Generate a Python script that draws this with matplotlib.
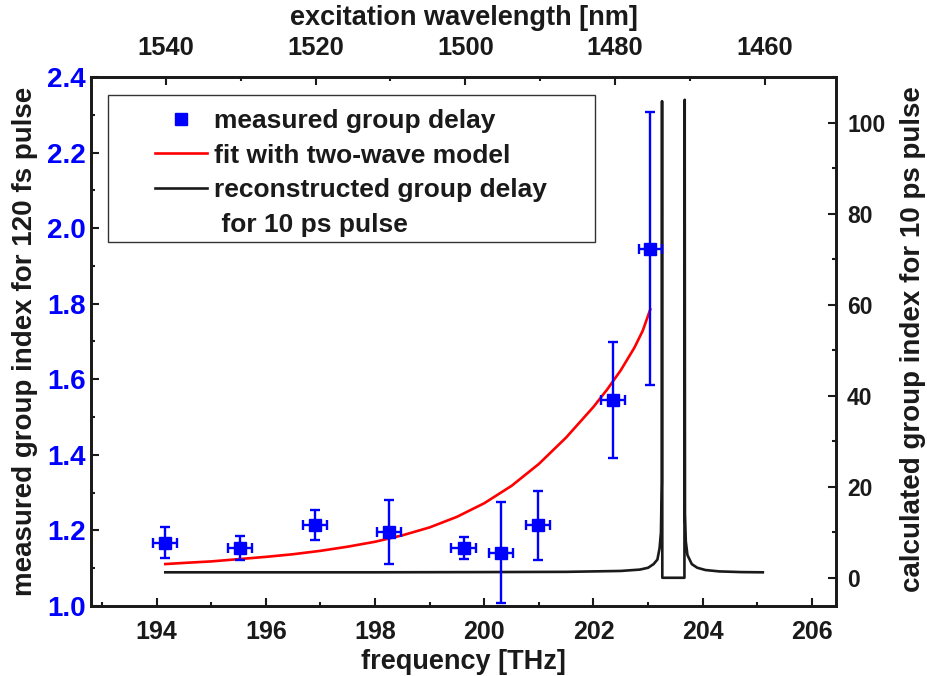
import matplotlib
matplotlib.use("Agg")
import matplotlib.pyplot as plt
from matplotlib.ticker import MultipleLocator, FormatStrFormatter
from matplotlib.lines import Line2D
from matplotlib.patches import Rectangle

# ---------------- data ----------------
freq_meas = [194.16, 195.53, 196.90, 198.26, 199.62, 200.31, 200.98, 202.36, 203.04]
ng_meas = [1.168, 1.153, 1.214, 1.195, 1.153, 1.141, 1.214, 1.546, 1.946]
ng_err = [0.042, 0.032, 0.039, 0.085, 0.029, 0.133, 0.091, 0.154, 0.362]
freq_err = [0.22, 0.22, 0.22, 0.22, 0.22, 0.22, 0.22, 0.22, 0.21]

fit_freq = [194.16, 194.5, 195.0, 195.5, 196.0, 196.5, 197.0, 197.5, 198.0, 198.5,
            199.0, 199.5, 200.0, 200.5, 201.0, 201.5, 202.0, 202.25, 202.5,
            202.75, 202.9, 203.04]
fit_ng = [1.111, 1.114, 1.118, 1.124, 1.130, 1.137, 1.146, 1.157, 1.170, 1.187,
          1.208, 1.236, 1.272, 1.318, 1.376, 1.446, 1.527, 1.573, 1.624,
          1.684, 1.728, 1.785]

rec_freq = [194.16, 196.0, 198.0, 200.0, 201.5, 202.5, 202.85, 203.0, 203.1, 203.17,
            203.21, 203.235, 203.25, 203.255, 203.26, 203.665, 203.67, 203.675,
            203.69, 203.72, 203.80, 203.90, 204.05, 204.30, 204.70, 205.10]
rec_ng = [1.2, 1.2, 1.2, 1.25, 1.3, 1.5, 1.8, 2.2, 3.0, 4.0,
          6.5, 10.0, 21.0, 104.7, 0.0, 0.0, 105.0, 14.0,
          8.0, 5.0, 3.0, 2.2, 1.7, 1.4, 1.25, 1.2]

freq_ticks = [194, 196, 198, 200, 202, 204, 206]
wl_ticks = [1540, 1520, 1500, 1480, 1460]
left_ticks = [1.0, 1.2, 1.4, 1.6, 1.8, 2.0, 2.2, 2.4]
right_ticks = [0, 20, 40, 60, 80, 100]

labels = ["measured group delay", "fit with two-wave model",
          "reconstructed group delay", " for 10 ps pulse"]

# ---------------- style ----------------
FONT = "Liberation Sans"
TXT = "#1a1a1a"
plt.rcParams["font.family"] = [FONT, "DejaVu Sans"]
plt.rcParams["font.weight"] = "bold"

fig = plt.figure(figsize=(9.28, 6.76), dpi=100)
ax = fig.add_axes([91 / 928, 70 / 676, 745 / 928, 529 / 676])
axr = ax.twinx()
axt = ax.twiny()

# reconstructed curve on right axis
axr.plot(rec_freq, rec_ng, color="#1a1a1a", lw=1.9, zorder=2)
axr.set_ylim(-6.2, 110)
axr.set_yticks(right_ticks)
axr.yaxis.set_minor_locator(MultipleLocator(10))

# fit and measurements on main axis
ax.plot(fit_freq, fit_ng, color="#ff0000", lw=1.9, zorder=3)
ax.errorbar(freq_meas, ng_meas, yerr=ng_err, xerr=freq_err, fmt="s",
            color="#0000ff", ms=8, elinewidth=1.7, capsize=3.4, capthick=1.7,
            zorder=4)
ax.set_xlim(192.8, 206.44)
ax.set_ylim(1.0, 2.4)
ax.set_xticks(freq_ticks)
ax.xaxis.set_minor_locator(MultipleLocator(1))
ax.set_yticks(left_ticks)
ax.yaxis.set_minor_locator(MultipleLocator(0.1))
ax.yaxis.set_major_formatter(FormatStrFormatter("%.1f"))
ax.set_zorder(axr.get_zorder() + 1)
ax.patch.set_visible(False)

# top wavelength axis (linear)
axt.set_xlim(1550.0, 1450.5)
axt.set_xticks(wl_ticks)
axt.xaxis.set_minor_locator(MultipleLocator(10))

for a in (ax, axr, axt):
    for s in a.spines.values():
        s.set_linewidth(1.8)
        s.set_color("#1a1a1a")

ax.tick_params(axis="x", which="both", direction="in", colors=TXT, width=1.5,
               labelsize=18, pad=10, top=False)
ax.tick_params(axis="x", which="major", length=5.5)
ax.tick_params(axis="x", which="minor", length=3)
ax.tick_params(axis="y", which="both", direction="in", color=TXT, width=1.5,
               labelsize=20, labelcolor="#0000ff", pad=4, right=False)
ax.tick_params(axis="y", which="major", length=5.5)
ax.tick_params(axis="y", which="minor", length=3)
axr.tick_params(axis="y", which="both", direction="in", colors=TXT, width=1.5,
                labelsize=16.5, pad=8)
axr.tick_params(axis="y", which="major", length=5.5)
axr.tick_params(axis="y", which="minor", length=3)
axt.tick_params(axis="x", which="both", direction="in", colors=TXT, width=1.5,
                labelsize=18.4, pad=12.5)
axt.tick_params(axis="x", which="major", length=5.5)
axt.tick_params(axis="x", which="minor", length=3)

for lab in ax.get_xticklabels() + ax.get_yticklabels() + axr.get_yticklabels() + axt.get_xticklabels():
    lab.set_fontweight("bold")

ax.set_xlabel("frequency [THz]", fontsize=19.5, fontweight="bold", color=TXT,
              va="center")
ax.xaxis.set_label_coords(0.5, -0.105)
axt.set_xlabel("excitation wavelength [nm]", fontsize=19.5, fontweight="bold",
               color=TXT, va="center")
axt.xaxis.set_label_coords(0.5, 1.112)
ax.set_ylabel("measured group index for 120 fs pulse", fontsize=20,
              fontweight="bold", color=TXT, va="center")
ax.yaxis.set_label_coords(-0.088, 0.5)
axr.set_ylabel("calculated group index for 10 ps pulse", fontsize=20,
               fontweight="bold", color=TXT, va="center", rotation=90)
axr.yaxis.set_label_coords(1.104, 0.505)

# legend box and entries
box = Rectangle((108 / 928, 1 - 242 / 676), 487 / 928, 147 / 676,
                transform=fig.transFigure, facecolor="white",
                edgecolor="#333333", lw=1.0, zorder=10)
fig.add_artist(box)
handles = [Line2D([], [], ls="none", marker="s", color="#0000ff", ms=8),
           Line2D([], [], color="#ff0000", lw=1.9),
           Line2D([], [], color="#1a1a1a", lw=1.9),
           Line2D([], [], ls="none")]
leg = fig.legend(handles, labels, loc="upper left",
                 bbox_to_anchor=(155 / 928, 1 - 109 / 676),
                 bbox_transform=fig.transFigure, frameon=False,
                 borderpad=0, borderaxespad=0, handlelength=1.97,
                 handletextpad=0.25, labelspacing=0.40,
                 prop={"family": FONT, "weight": "bold", "size": 19})
leg.set_zorder(11)
for t in leg.get_texts():
    t.set_color(TXT)

fig.savefig("out.png", dpi=100)
